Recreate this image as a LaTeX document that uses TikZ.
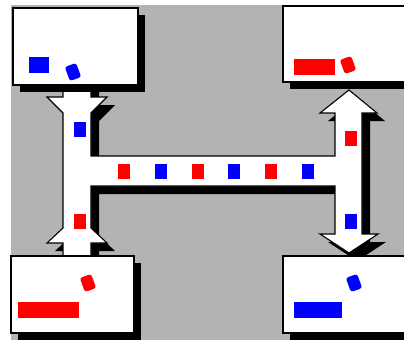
\documentclass[tikz,border=0pt]{standalone}
\usetikzlibrary{shadows}
\definecolor{PanelGray}{RGB}{179,179,179}
\definecolor{PacketRed}{RGB}{255,0,0}
\definecolor{PacketBlue}{RGB}{0,0,255}
\tikzset{
  hostbox/.style={draw=black,fill=white,line width=2pt,inner sep=0pt,minimum height=77pt,drop shadow={shadow xshift=7pt,shadow yshift=-7pt,opacity=1,fill=black}},
  packet/.style={inner sep=0pt,minimum width=12pt,minimum height=15pt},
  bar/.style={inner sep=0pt,minimum height=16pt},
  blob/.style={inner sep=0pt,minimum width=12pt,minimum height=15pt,rounded corners=2.5pt,rotate=20},
  pipe/.style={fill=white,draw=black,line width=1.1pt,line join=miter},
  pipeshadow/.style={fill=black,xshift=8pt,yshift=-8pt}
}
\newcommand{\corridor}[1]{\path[#1] (63,80) -- (91,80) -- (91,97) -- (107,97) -- (91,113) -- (91,156)
  -- (335,156) -- (335,113) -- (320,113) -- (349,90) -- (377,113) -- (362,113)
  -- (362,234) -- (378,234) -- (349,253) -- (320,234) -- (335,234) -- (335,186)
  -- (91,186) -- (91,228) -- (107,243) -- (91,243) -- (91,262) -- (63,262)
  -- (63,243) -- (47,243) -- (63,228) -- (63,113) -- (47,97) -- (63,97) -- cycle;}

\begin{document}
\begin{tikzpicture}[x=1pt,y=-1pt]
\clip (0,0) rectangle (404,340);
\fill[white] (0,0) rectangle (404,340);
\fill[PanelGray] (11,5) rectangle (404,340);

\corridor{pipeshadow}
\corridor{pipe}

\node[hostbox,minimum width=125pt] (tl) at (75.5,46.5) {};
\node[hostbox,minimum width=160pt,minimum height=76pt] (tr) at (363,43.5) {};
\node[hostbox,minimum width=123pt] (bl) at (72.5,294.5) {};
\node[hostbox,minimum width=160pt] (br) at (363,294.5) {};

\node[bar,fill=PacketBlue,minimum width=20pt] (tlbar) at (39,65) {};
\node[blob,fill=PacketBlue] (tlblob) at (73,72) {};
\node[bar,fill=PacketRed,minimum width=41pt] (trbar) at (314.5,66.5) {};
\node[blob,fill=PacketRed] (trblob) at (348,65) {};
\node[bar,fill=PacketRed,minimum width=61pt] (blbar) at (48.5,310) {};
\node[blob,fill=PacketRed] (blblob) at (88,283) {};
\node[bar,fill=PacketBlue,minimum width=48pt] (brbar) at (318,310) {};
\node[blob,fill=PacketBlue] (brblob) at (354,283) {};

\node[packet,fill=PacketBlue] (lup) at (80,129) {};
\node[packet,fill=PacketRed] (ldown) at (80,221) {};
\node[packet,fill=PacketRed] (rup) at (350.5,138) {};
\node[packet,fill=PacketBlue] (rdown) at (350.5,221) {};
\foreach \x/\c [count=\i] in {124/PacketRed,160.5/PacketBlue,197.5/PacketRed,234/PacketBlue,270.5/PacketRed,307.5/PacketBlue}
  \node[packet,fill=\c] (p\i) at (\x,171.5) {};
\end{tikzpicture}
\end{document}
